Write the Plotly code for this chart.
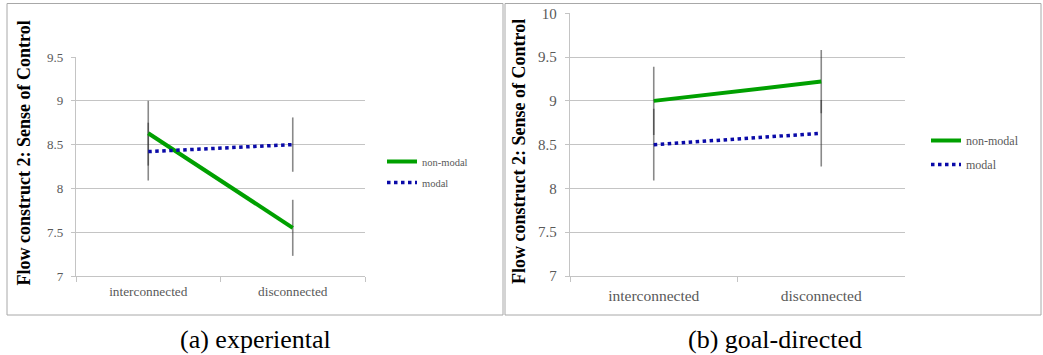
import plotly.graph_objects as go

W, H = 1043, 355

categories = ["interconnected", "disconnected"]
series_names = ["non-modal", "modal"]

exp_nonmodal = [8.63, 7.55]
exp_nonmodal_err = [0.37, 0.32]
exp_modal = [8.42, 8.50]
exp_modal_err = [0.33, 0.31]

goal_nonmodal = [9.00, 9.22]
goal_nonmodal_err = [0.39, 0.36]
goal_modal = [8.50, 8.63]
goal_modal_err = [0.41, 0.38]

y_title = "Flow construct 2: Sense of Control"
captions = ["(a) experiental", "(b) goal-directed"]

GREEN = "#00a000"
BLUE = "#0a0aa8"
GRID = "#c4c4c4"
TXT = "#595959"
ERR = "rgba(40,40,40,0.55)"
SERIF = "Liberation Serif, Times New Roman, serif"


def px(x):
    return x / W


def py(y):
    return 1 - y / H


fig = go.Figure()

panels = [
    dict(xa="x", ya="y", leg="legend", data=[(exp_nonmodal, exp_nonmodal_err), (exp_modal, exp_modal_err)]),
    dict(xa="x2", ya="y2", leg="legend2", data=[(goal_nonmodal, goal_nonmodal_err), (goal_modal, goal_modal_err)]),
]

for p in panels:
    for vals, errs in p["data"]:
        fig.add_trace(go.Scatter(
            x=categories, y=vals, xaxis=p["xa"], yaxis=p["ya"], mode="markers",
            marker=dict(size=1, color="rgba(0,0,0,0)"),
            error_y=dict(type="data", array=errs, visible=True, color=ERR, thickness=1.6, width=0),
            showlegend=False, hoverinfo="skip"))
    (nm, _), (md, _) = p["data"]
    fig.add_trace(go.Scatter(
        x=categories, y=nm, xaxis=p["xa"], yaxis=p["ya"], mode="lines",
        line=dict(color=GREEN, width=4), name=series_names[0], legend=p["leg"],
        legendgroup=p["leg"] + "a"))
    fig.add_trace(go.Scatter(
        x=categories, y=md, xaxis=p["xa"], yaxis=p["ya"], mode="lines",
        line=dict(color=BLUE, width=3.5, dash="3.5px,3.5px"), name=series_names[1], legend=p["leg"],
        legendgroup=p["leg"] + "b"))

common_x = dict(type="category", range=[-0.5, 1.5], tickson="boundaries", ticks="outside",
                ticklen=5, tickcolor=GRID, showline=True, linecolor=GRID, linewidth=1.3,
                showgrid=False, zeroline=False, fixedrange=True, automargin=False)
common_y = dict(dtick=0.5, ticks="outside", ticklen=4, tickcolor=GRID,
                showline=True, linecolor=GRID, linewidth=1.3, showgrid=True, gridcolor=GRID,
                gridwidth=1.3, zeroline=False, fixedrange=True, ticklabelstandoff=5,
                automargin=False)

fig.update_layout(
    width=W, height=H, margin=dict(l=0, r=0, t=0, b=0, autoexpand=False),
    paper_bgcolor="white", plot_bgcolor="white",
    xaxis=dict(common_x, domain=[px(76), px(365)], anchor="y", ticklabelstandoff=3,
               tickfont=dict(family=SERIF, size=13.3, color=TXT)),
    yaxis=dict(common_y, domain=[py(276), py(57)], anchor="x", range=[7, 9.5],
               tickfont=dict(family=SERIF, size=13, color=TXT)),
    xaxis2=dict(common_x, domain=[px(570), px(905)], anchor="y2", ticklabelstandoff=5,
                tickfont=dict(family=SERIF, size=15.5, color=TXT)),
    yaxis2=dict(common_y, domain=[py(276), py(13.3)], anchor="x2", range=[7, 10],
                tickfont=dict(family=SERIF, size=15, color=TXT)),
    legend=dict(x=px(382), y=py(147), xanchor="left", yanchor="top", bgcolor="rgba(0,0,0,0)",
                font=dict(family=SERIF, size=10.5, color=TXT), tracegroupgap=2,
                itemwidth=30),
    legend2=dict(x=px(926), y=py(126), xanchor="left", yanchor="top", bgcolor="rgba(0,0,0,0)",
                 font=dict(family=SERIF, size=12, color=TXT), tracegroupgap=5,
                 itemwidth=30),
    showlegend=True,
)

fig.add_shape(type="rect", xref="paper", yref="paper", x0=px(7), x1=px(503), y0=py(315), y1=py(3.5),
              line=dict(color="#a8a8a8", width=1))
fig.add_shape(type="rect", xref="paper", yref="paper", x0=px(505), x1=px(1041), y0=py(315), y1=py(3.5),
              line=dict(color="#a8a8a8", width=1))

for xc, yc in [(23.5, 153), (519, 152)]:
    fig.add_annotation(text="<b>" + y_title + "</b>", x=px(xc), y=py(yc), xref="paper", yref="paper",
                       xanchor="center", yanchor="middle", textangle=-90, showarrow=False,
                       font=dict(family=SERIF, size=18, color="black"))

for xc, cap in [(255, captions[0]), (775, captions[1])]:
    fig.add_annotation(text=cap, x=px(xc), y=py(339), xref="paper", yref="paper", showarrow=False,
                       xanchor="center", yanchor="middle",
                       font=dict(family=SERIF, size=26, color="black"))

fig.write_html(
    "out.html",
    config={"displayModeBar": False},
    post_script="document.body.style.margin='0';document.body.style.padding='0';"
                "document.documentElement.style.overflow='hidden';",
)
